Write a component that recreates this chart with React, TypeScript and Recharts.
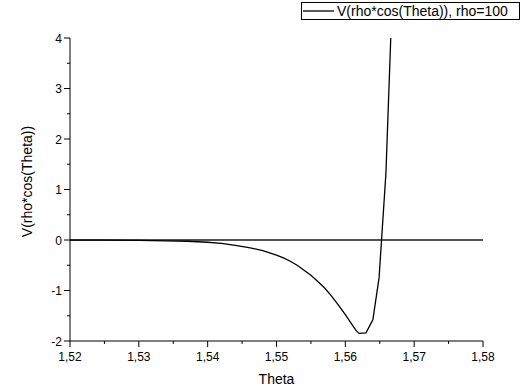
import { LineChart, Line, XAxis, YAxis, ReferenceLine } from 'recharts';

const theta = [
  1.52, 1.525, 1.53, 1.534, 1.537, 1.54, 1.542, 1.544, 1.546, 1.548, 1.55, 1.551, 1.552, 1.553, 1.554,
  1.555, 1.556, 1.557, 1.558, 1.559, 1.56, 1.561, 1.5616, 1.562, 1.563, 1.564, 1.5649, 1.5659, 1.5666,
];
const potential = [
  -0.002, -0.004, -0.008, -0.016, -0.025, -0.045, -0.068, -0.105, -0.15, -0.21, -0.3, -0.355, -0.42, -0.5, -0.6,
  -0.7, -0.82, -0.95, -1.11, -1.29, -1.48, -1.68, -1.8, -1.85, -1.84, -1.58, -0.75, 1.33, 4.0,
];
const xTicks = [1.52, 1.525, 1.53, 1.535, 1.54, 1.545, 1.55, 1.555, 1.56, 1.565, 1.57, 1.575, 1.58];
const yTicks = [-2, -1.5, -1, -0.5, 0, 0.5, 1, 1.5, 2, 2.5, 3, 3.5, 4];
const seriesName = 'V(rho*cos(Theta)), rho=100';
const xTitle = 'Theta';
const yTitle = 'V(rho*cos(Theta))';

const chartData = theta.map((t, i) => ({ theta: t, v: potential[i] }));

const font = '"Liberation Sans", Arial, sans-serif';

const isMajor = (v: number, step: number) => Math.abs(v / step - Math.round(v / step)) < 1e-6;

const XTick = ({ x, y, payload }: any) => {
  const major = isMajor(payload.value, 0.01);
  return (
    <g>
      <line x1={x} y1={y} x2={x} y2={y + (major ? 6 : 3)} stroke="#000" strokeWidth={1} />
      {major && (
        <text x={x} y={y + 20} textAnchor="middle" fontSize={12} fontFamily={font} fill="#000">
          {payload.value.toFixed(2).replace('.', ',')}
        </text>
      )}
    </g>
  );
};

const YTick = ({ x, y, payload }: any) => {
  const major = isMajor(payload.value, 1);
  return (
    <g>
      <line x1={x} y1={y} x2={x - (major ? 6 : 3)} y2={y} stroke="#000" strokeWidth={1} />
      {major && (
        <text x={x - 8} y={y + 4.5} textAnchor="end" fontSize={12} fontFamily={font} fill="#000">
          {payload.value}
        </text>
      )}
    </g>
  );
};

const XTitle = ({ viewBox }: any) => (
  <text x={viewBox.x + viewBox.width / 2} y={viewBox.y + 43} textAnchor="middle" fontSize={14} fontFamily={font} fill="#000">
    {xTitle}
  </text>
);

const YTitle = ({ viewBox }: any) => {
  const cx = viewBox.x + 27;
  const cy = viewBox.y + viewBox.height / 2 - 8;
  return (
    <text x={cx} y={cy} transform={`rotate(-90 ${cx} ${cy})`} textAnchor="middle" dominantBaseline="central" fontSize={14} fontFamily={font} fill="#000">
      {yTitle}
    </text>
  );
};

export default function App() {
  return (
    <div style={{ position: 'absolute', left: 0, top: 0, width: 523, height: 392, background: '#fff' }}>
      <LineChart width={523} height={392} data={chartData} margin={{ top: 38, right: 40, left: 0, bottom: 0 }}>
        <XAxis
          dataKey="theta"
          type="number"
          domain={[1.52, 1.58]}
          ticks={xTicks}
          interval={0}
          height={51}
          stroke="#000"
          tickLine={false}
          tickSize={0}
          tickMargin={0}
          tick={<XTick />}
          label={<XTitle />}
          allowDataOverflow
        />
        <YAxis
          type="number"
          domain={[-2, 4]}
          ticks={yTicks}
          interval={0}
          width={70}
          stroke="#000"
          tickLine={false}
          tickSize={0}
          tickMargin={0}
          tick={<YTick />}
          label={<YTitle />}
          allowDataOverflow
        />
        <ReferenceLine y={0} stroke="#555" strokeWidth={2} />
        <Line
          dataKey="v"
          name={seriesName}
          type="linear"
          stroke="#000"
          strokeWidth={1.3}
          dot={false}
          isAnimationActive={false}
        />
      </LineChart>
      <div
        style={{
          position: 'absolute',
          left: 301,
          top: 2,
          width: 219,
          height: 18,
          border: '1px solid #000',
          background: '#fff',
          display: 'flex',
          alignItems: 'center',
          fontFamily: font,
          fontSize: 14,
          whiteSpace: 'nowrap',
          boxSizing: 'border-box',
        }}
      >
        <svg width={32} height={10} style={{ marginLeft: 1 }}>
          <line x1={0} y1={5} x2={31} y2={5} stroke="#000" strokeWidth={1.3} />
        </svg>
        <span style={{ marginLeft: 2 }}>{seriesName}</span>
      </div>
    </div>
  );
}
